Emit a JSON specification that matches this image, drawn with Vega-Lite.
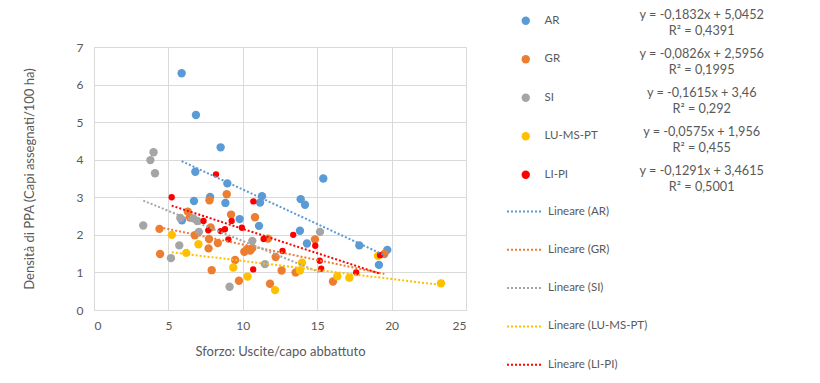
{
  "$schema": "https://vega.github.io/schema/vega-lite/v6.json",
  "width": 372,
  "height": 263,
  "autosize": {"type": "none"},
  "padding": {"left": 94, "top": 47, "right": 354, "bottom": 73},
  "background": "white",
  "config": {
    "font": "Lato",
    "view": {"stroke": null},
    "axis": {
      "labelColor": "#595959", "titleColor": "#595959",
      "labelFont": "Lato", "titleFont": "Lato",
      "labelFontSize": 12, "titleFontSize": 13, "titleFontWeight": "normal",
      "gridColor": "#d9d9d9", "domainColor": "#d9d9d9", "ticks": false,
      "labelOverlap": false
    },
    "legend": {"labelColor": "#595959", "labelFont": "Lato", "labelFontSize": 11.5}
  },
  "datasets": {
    "pts": [
      {"series": "AR", "x": 5.89, "y": 6.30},
      {"series": "AR", "x": 6.85, "y": 5.19},
      {"series": "AR", "x": 8.51, "y": 4.33},
      {"series": "AR", "x": 6.81, "y": 3.68},
      {"series": "AR", "x": 8.96, "y": 3.37},
      {"series": "AR", "x": 11.29, "y": 3.03},
      {"series": "AR", "x": 11.16, "y": 2.86},
      {"series": "AR", "x": 6.72, "y": 2.90},
      {"series": "AR", "x": 7.80, "y": 3.01},
      {"series": "AR", "x": 8.83, "y": 2.85},
      {"series": "AR", "x": 5.91, "y": 2.39},
      {"series": "AR", "x": 9.79, "y": 2.42},
      {"series": "AR", "x": 11.09, "y": 2.24},
      {"series": "AR", "x": 15.41, "y": 3.50},
      {"series": "AR", "x": 13.89, "y": 2.95},
      {"series": "AR", "x": 14.18, "y": 2.80},
      {"series": "AR", "x": 13.84, "y": 2.11},
      {"series": "AR", "x": 14.31, "y": 1.77},
      {"series": "AR", "x": 17.83, "y": 1.72},
      {"series": "AR", "x": 19.71, "y": 1.60},
      {"series": "AR", "x": 19.15, "y": 1.20},
      {"series": "GR", "x": 6.30, "y": 2.62},
      {"series": "GR", "x": 6.45, "y": 2.46},
      {"series": "GR", "x": 7.76, "y": 2.92},
      {"series": "GR", "x": 8.92, "y": 3.08},
      {"series": "GR", "x": 9.21, "y": 2.54},
      {"series": "GR", "x": 10.82, "y": 2.47},
      {"series": "GR", "x": 4.40, "y": 2.16},
      {"series": "GR", "x": 6.77, "y": 1.99},
      {"series": "GR", "x": 7.84, "y": 2.20},
      {"series": "GR", "x": 7.73, "y": 1.89},
      {"series": "GR", "x": 8.32, "y": 1.78},
      {"series": "GR", "x": 7.70, "y": 1.64},
      {"series": "GR", "x": 4.44, "y": 1.49},
      {"series": "GR", "x": 9.48, "y": 1.33},
      {"series": "GR", "x": 7.91, "y": 1.06},
      {"series": "GR", "x": 9.74, "y": 0.78},
      {"series": "GR", "x": 10.10, "y": 1.55},
      {"series": "GR", "x": 10.30, "y": 1.62},
      {"series": "GR", "x": 10.50, "y": 1.58},
      {"series": "GR", "x": 10.64, "y": 1.65},
      {"series": "GR", "x": 11.70, "y": 1.90},
      {"series": "GR", "x": 12.21, "y": 1.41},
      {"series": "GR", "x": 12.61, "y": 1.05},
      {"series": "GR", "x": 11.83, "y": 0.70},
      {"series": "GR", "x": 13.55, "y": 1.00},
      {"series": "GR", "x": 14.85, "y": 1.88},
      {"series": "GR", "x": 16.06, "y": 0.76},
      {"series": "GR", "x": 19.51, "y": 1.49},
      {"series": "SI", "x": 4.00, "y": 4.20},
      {"series": "SI", "x": 3.79, "y": 3.99},
      {"series": "SI", "x": 4.10, "y": 3.64},
      {"series": "SI", "x": 3.31, "y": 2.25},
      {"series": "SI", "x": 5.80, "y": 2.45},
      {"series": "SI", "x": 6.67, "y": 2.44},
      {"series": "SI", "x": 6.94, "y": 2.37},
      {"series": "SI", "x": 7.05, "y": 2.08},
      {"series": "SI", "x": 5.73, "y": 1.72},
      {"series": "SI", "x": 5.17, "y": 1.38},
      {"series": "SI", "x": 9.11, "y": 0.62},
      {"series": "SI", "x": 10.64, "y": 1.84},
      {"series": "SI", "x": 11.49, "y": 1.22},
      {"series": "SI", "x": 15.19, "y": 2.08},
      {"series": "LU-MS-PT", "x": 5.23, "y": 2.00},
      {"series": "LU-MS-PT", "x": 6.20, "y": 1.52},
      {"series": "LU-MS-PT", "x": 7.02, "y": 1.75},
      {"series": "LU-MS-PT", "x": 9.36, "y": 1.13},
      {"series": "LU-MS-PT", "x": 10.32, "y": 0.89},
      {"series": "LU-MS-PT", "x": 12.17, "y": 0.53},
      {"series": "LU-MS-PT", "x": 13.98, "y": 1.26},
      {"series": "LU-MS-PT", "x": 13.84, "y": 1.05},
      {"series": "LU-MS-PT", "x": 16.35, "y": 0.90},
      {"series": "LU-MS-PT", "x": 17.16, "y": 0.86},
      {"series": "LU-MS-PT", "x": 19.08, "y": 1.44},
      {"series": "LU-MS-PT", "x": 23.32, "y": 0.71},
      {"series": "LI-PI", "x": 8.20, "y": 3.61},
      {"series": "LI-PI", "x": 5.22, "y": 3.00},
      {"series": "LI-PI", "x": 10.71, "y": 2.89},
      {"series": "LI-PI", "x": 7.36, "y": 2.37},
      {"series": "LI-PI", "x": 9.25, "y": 2.37},
      {"series": "LI-PI", "x": 7.68, "y": 2.12},
      {"series": "LI-PI", "x": 8.51, "y": 2.10},
      {"series": "LI-PI", "x": 8.80, "y": 2.15},
      {"series": "LI-PI", "x": 9.94, "y": 2.19},
      {"series": "LI-PI", "x": 9.03, "y": 1.88},
      {"series": "LI-PI", "x": 11.40, "y": 1.89},
      {"series": "LI-PI", "x": 12.67, "y": 1.57},
      {"series": "LI-PI", "x": 10.70, "y": 1.08},
      {"series": "LI-PI", "x": 13.39, "y": 2.00},
      {"series": "LI-PI", "x": 14.87, "y": 1.71},
      {"series": "LI-PI", "x": 15.17, "y": 1.31},
      {"series": "LI-PI", "x": 15.27, "y": 1.10},
      {"series": "LI-PI", "x": 17.62, "y": 1.00},
      {"series": "LI-PI", "x": 19.22, "y": 1.46}
    ],
    "fits": [
      {"series": "AR", "eq": "y = -0,1832x + 5,0452", "r2": "R² = 0,4391"},
      {"series": "GR", "eq": "y = -0,0826x + 2,5956", "r2": "R² = 0,1995"},
      {"series": "SI", "eq": "y = -0,1615x + 3,46", "r2": "R² = 0,292"},
      {"series": "LU-MS-PT", "eq": "y = -0,0575x + 1,956", "r2": "R² = 0,455"},
      {"series": "LI-PI", "eq": "y = -0,1291x + 3,4615", "r2": "R² = 0,5001"}
    ]
  },
  "layer": [
    {
      "data": {"name": "pts"},
      "mark": {"type": "circle", "opacity": 1},
      "encoding": {
        "x": {
          "field": "x", "type": "quantitative",
          "scale": {"domain": [0, 25], "nice": false},
          "axis": {"title": "Sforzo: Uscite/capo abbattuto", "values": [0, 5, 10, 15, 20, 25], "grid": true, "labelPadding": 10, "titlePadding": 14}
        },
        "y": {
          "field": "y", "type": "quantitative",
          "scale": {"domain": [0, 7], "nice": false},
          "axis": {"title": "Densità di PPA (Capi assegnati/100 ha)", "tickCount": 8, "grid": true, "labelPadding": 11, "titlePadding": 40}
        },
        "color": {
          "field": "series", "type": "nominal",
          "scale": {"domain": ["AR", "GR", "SI", "LU-MS-PT", "LI-PI"], "range": ["#5B9BD5", "#ED7D31", "#A5A5A5", "#FFC000", "#FF0000"]},
          "legend": {"orient": "none", "legendX": 426, "legendY": -32, "title": null, "padding": 0, "symbolType": "circle", "symbolSize": 70, "symbolStrokeWidth": 0, "symbolOpacity": 1, "labelOffset": 13, "rowPadding": 25.5}
        },
        "size": {"condition": {"test": "datum.series === 'LI-PI'", "value": 40}, "value": 70}
      }
    },
    {
      "data": {"name": "pts"},
      "transform": [{"regression": "y", "on": "x", "groupby": ["series"]}],
      "mark": {"type": "line", "strokeDash": [2, 2], "strokeWidth": 2},
      "encoding": {
        "x": {"field": "x", "type": "quantitative"},
        "y": {"field": "y", "type": "quantitative"},
        "color": {
          "field": "series", "type": "nominal",
          "scale": {"domain": ["AR", "GR", "SI", "LU-MS-PT", "LI-PI"], "range": ["#5B9BD5", "#ED7D31", "#A5A5A5", "#FFC000", "#FF0000"]},
          "legend": {"orient": "none", "legendX": 412, "legendY": 146, "title": null, "padding": 0, "symbolType": "stroke", "symbolSize": 1225, "symbolStrokeWidth": 2, "symbolDash": [2, 2], "labelOffset": 5, "rowPadding": 14.3, "labelExpr": "'Lineare (' + datum.label + ')'"}
        }
      }
    },
    {
      "data": {"name": "fits"},
      "mark": {"type": "point", "opacity": 0},
      "encoding": {
        "shape": {
          "field": "eq", "type": "nominal", "sort": null,
          "legend": {
            "orient": "none", "legendX": 595, "legendY": -38, "title": null, "padding": 0,
            "symbolSize": 0, "symbolOpacity": 0, "symbolStrokeWidth": 0,
            "labelOffset": 0, "labelAlign": "center", "labelLimit": 300, "labelFontSize": 12.7, "rowPadding": 25
          }
        }
      }
    },
    {
      "data": {"name": "fits"},
      "mark": {"type": "point", "opacity": 0},
      "encoding": {
        "fill": {
          "field": "r2", "type": "nominal", "sort": null,
          "legend": {
            "orient": "none", "legendX": 595, "legendY": -22, "title": null, "padding": 0,
            "symbolSize": 0, "symbolOpacity": 0, "symbolStrokeWidth": 0,
            "labelOffset": 0, "labelAlign": "center", "labelLimit": 300, "labelFontSize": 12.7, "rowPadding": 25
          }
        }
      }
    }
  ],
  "resolve": {"scale": {"color": "independent"}, "legend": {"color": "independent"}}
}
